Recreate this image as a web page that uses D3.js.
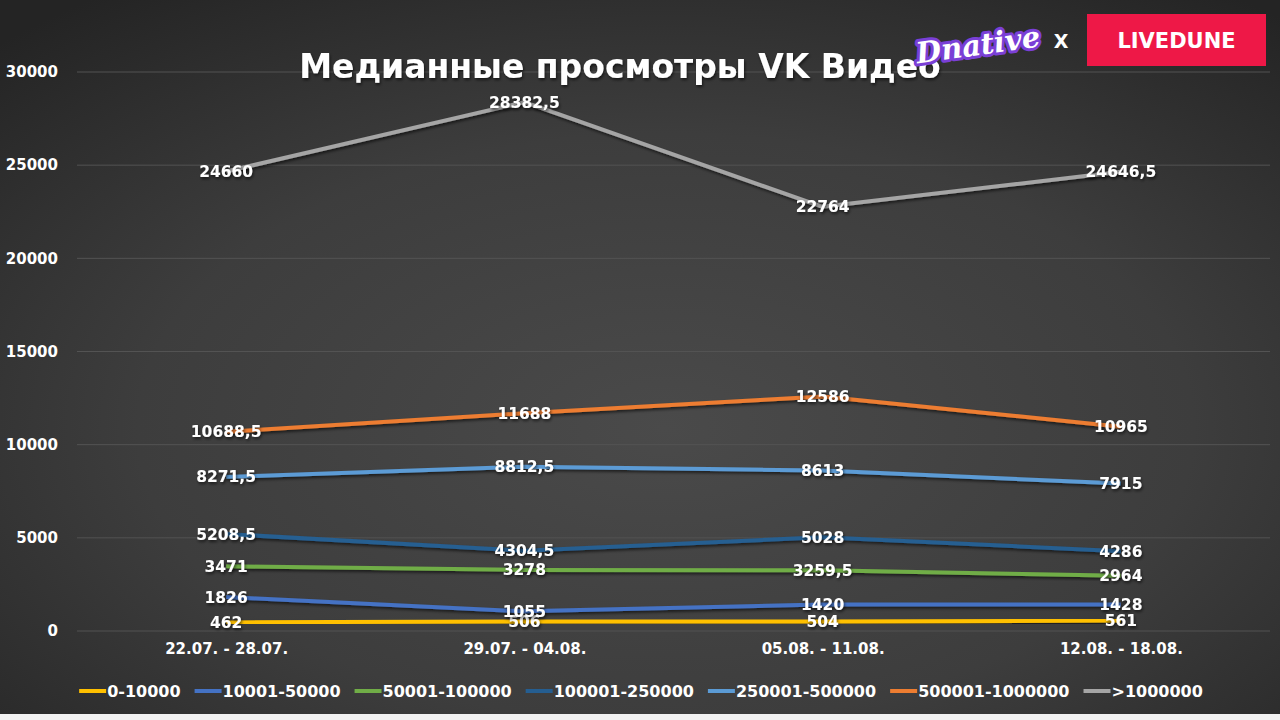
<!DOCTYPE html>
<html><head><meta charset="utf-8">
<script src="https://cdn.jsdelivr.net/npm/d3@7/dist/d3.min.js"></script>
<style>html,body{margin:0;padding:0;background:#fff;}svg{display:block;}</style>
</head><body>
<script>
const categories = ["22.07. - 28.07.", "29.07. - 04.08.", "05.08. - 11.08.", "12.08. - 18.08."];
const seriesNames = ["0-10000", "10001-50000", "50001-100000", "100001-250000", "250001-500000", "500001-1000000", ">1000000"];
const seriesColors = ["#FFC000", "#4472C4", "#70AD47", "#255E91", "#5B9BD5", "#ED7D31", "#A5A5A5"];
const s0 = [462, 506, 504, 561];
const s1 = [1826, 1055, 1420, 1428];
const s2 = [3471, 3278, 3259.5, 2964];
const s3 = [5208.5, 4304.5, 5028, 4286];
const s4 = [8271.5, 8812.5, 8613, 7915];
const s5 = [10688.5, 11688, 12586, 10965];
const s6 = [24660, 28382.5, 22764, 24646.5];
const seriesValues = [s0, s1, s2, s3, s4, s5, s6];
const yTicks = [0, 5000, 10000, 15000, 20000, 25000, 30000];
const title = "Медианные просмотры VK Видео";

const W = 1280, H = 720;
const FONT = "'DejaVu Sans', sans-serif";
const svg = d3.select("body").append("svg").attr("width", W).attr("height", H);
const defs = svg.append("defs");
const rg = defs.append("radialGradient").attr("id", "bg").attr("cx", "52%").attr("cy", "60%").attr("r", "75%");
rg.append("stop").attr("offset", "0%").attr("stop-color", "#4a4a4a");
rg.append("stop").attr("offset", "55%").attr("stop-color", "#3d3d3d");
rg.append("stop").attr("offset", "100%").attr("stop-color", "#242424");
const sh = defs.append("filter").attr("id", "sh").attr("x", "-10%").attr("y", "-50%").attr("width", "120%").attr("height", "200%");
sh.append("feDropShadow").attr("dx", 1).attr("dy", 2).attr("stdDeviation", 1.5).attr("flood-color", "#000").attr("flood-opacity", 0.6);

svg.append("rect").attr("width", W).attr("height", 714).attr("fill", "url(#bg)");
svg.append("rect").attr("y", 714).attr("width", W).attr("height", 6).attr("fill", "#f2f2f2");

const x = d3.scalePoint().domain(categories).range([77, 1270]).padding(0.5);
const y = d3.scaleLinear().domain([0, 30000]).range([631, 72]);

// grid
svg.append("g").selectAll("line").data(yTicks).join("line")
  .attr("x1", 77).attr("x2", 1270).attr("y1", d => y(d)).attr("y2", d => y(d))
  .attr("stroke", "#535353").attr("stroke-width", 1);

// y axis
const yAxis = svg.append("g").attr("transform", "translate(62,0)")
  .call(d3.axisLeft(y).tickValues(yTicks).tickSize(0).tickPadding(4).tickFormat(d => String(d)));
yAxis.select(".domain").remove();
yAxis.selectAll("text").attr("fill", "#fff").attr("font-family", FONT).attr("font-weight", "bold").attr("font-size", 15);

// x axis
const xAxis = svg.append("g").attr("transform", "translate(0,643)")
  .call(d3.axisBottom(x).tickSize(0).tickPadding(0));
xAxis.select(".domain").remove();
xAxis.selectAll("text").attr("fill", "#fff").attr("font-family", FONT).attr("font-weight", "bold").attr("font-size", 15).attr("dy", "0.75em");

// title
svg.append("text").attr("x", 620).attr("y", 78).attr("text-anchor", "middle")
  .attr("fill", "#fff").attr("font-family", FONT).attr("font-weight", "bold").attr("font-size", 33)
  .attr("filter", "url(#sh)").text(title);

// lines
const line = d3.line().x((d, i) => x(categories[i])).y(d => y(d));
const gl = svg.append("g");
seriesValues.forEach((vals, si) => {
  gl.append("path").datum(vals).attr("d", line).attr("fill", "none")
    .attr("stroke", seriesColors[si]).attr("stroke-width", 4).attr("stroke-linejoin", "round")
    .attr("filter", "url(#sh)");
});
// labels
const fmt = v => String(v).replace(".", ",");
const glab = svg.append("g");
seriesValues.forEach((vals, si) => {
  vals.forEach((v, i) => {
    glab.append("text").attr("x", x(categories[i])).attr("y", y(v)).attr("dy", "0.36em")
      .attr("text-anchor", "middle").attr("fill", "#fff").attr("font-family", FONT)
      .attr("font-weight", "bold").attr("font-size", 15.5).attr("filter", "url(#sh)").text(fmt(v));
  });
});

// legend
const lg = svg.append("g");
let cx = 0;
seriesNames.forEach((n, i) => {
  const g = lg.append("g");
  g.append("line").attr("x1", 0).attr("x2", 27).attr("y1", 0).attr("y2", 0)
    .attr("stroke", seriesColors[i]).attr("stroke-width", 4);
  const t = g.append("text").attr("x", 28).attr("y", 0).attr("dy", "0.36em").attr("fill", "#fff")
    .attr("font-family", FONT).attr("font-weight", "bold").attr("font-size", 16).text(n);
  const w = t.node().getComputedTextLength();
  g.attr("transform", `translate(${cx},691)`);
  cx += 28 + w + 14;
});
const total = cx - 14;
lg.attr("transform", `translate(${641 - total / 2},0)`);

// logos
svg.append("text").attr("x", 978).attr("y", 55).attr("text-anchor", "middle")
  .attr("transform", "rotate(-8,978,45)")
  .attr("font-family", "'DejaVu Serif', serif").attr("font-style", "italic").attr("font-weight", "bold")
  .attr("font-size", 29).attr("fill", "#fff").attr("stroke", "#7a3fd6").attr("stroke-width", 6)
  .attr("paint-order", "stroke").attr("stroke-linejoin", "round").text("Dnative");
svg.append("text").attr("x", 1061).attr("y", 48).attr("text-anchor", "middle")
  .attr("font-family", FONT).attr("font-weight", "bold").attr("font-size", 19).attr("fill", "#fff").text("X");
svg.append("rect").attr("x", 1087).attr("y", 14).attr("width", 179).attr("height", 52).attr("fill", "#ee1847");
svg.append("text").attr("x", 1176.5).attr("y", 48).attr("text-anchor", "middle")
  .attr("font-family", FONT).attr("font-weight", "bold").attr("font-size", 21).attr("fill", "#fff").text("LIVEDUNE");
</script>
</body></html>
